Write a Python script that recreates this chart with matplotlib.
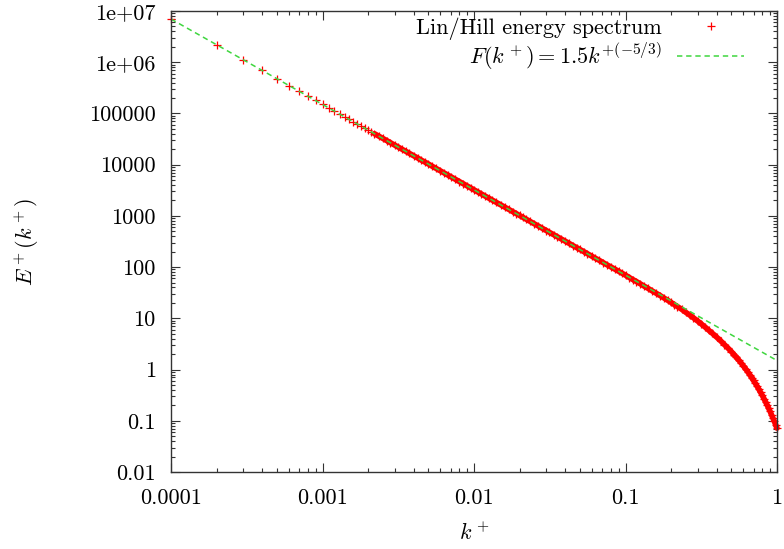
import numpy as np
import matplotlib
matplotlib.use('Agg')
import matplotlib.pyplot as plt
from matplotlib.ticker import FixedLocator, LogLocator, NullFormatter

# spectrum points, split by decade of k+
k_low = [0.0001, 0.0002, 0.0003, 0.0004, 0.0005, 0.0006, 0.0007, 0.0008, 0.0009]
e_low = [6.96e6, 2.19e6, 1.115e6, 6.90e5, 4.76e5, 3.51e5, 2.72e5, 2.175e5, 1.79e5]

k_dec3 = [0.001, 0.0011, 0.0012, 0.0013, 0.0014, 0.0015, 0.0016, 0.0017, 0.0018, 0.0019,
          0.002, 0.0021, 0.0022, 0.00235, 0.0025, 0.00265, 0.0028, 0.003, 0.00315, 0.00335,
          0.00355, 0.00375, 0.004, 0.00425, 0.0045, 0.00475, 0.005, 0.0053, 0.0056, 0.006,
          0.0063, 0.0067, 0.0071, 0.0075, 0.008, 0.0085, 0.009, 0.0095]
e_dec3 = [150000, 128000, 110700, 96900, 85600, 76300, 68500, 61900, 56300, 51500,
          47200, 43600, 40300, 36100, 32600, 29600, 27000, 24000, 22200, 20000,
          18200, 16600, 14900, 13500, 12200, 11200, 10300, 9310, 8500, 7570,
          6980, 6300, 5720, 5220, 4690, 4240, 3850, 3520]

k_dec2 = [0.01, 0.0106, 0.0112, 0.0118, 0.0125, 0.0132, 0.014, 0.015, 0.016, 0.017,
          0.018, 0.019, 0.02, 0.021, 0.022, 0.0235, 0.025, 0.0265, 0.028, 0.03,
          0.0315, 0.0335, 0.0355, 0.0375, 0.04, 0.0425, 0.045, 0.0475, 0.05, 0.053,
          0.056, 0.06, 0.063, 0.067, 0.071, 0.075, 0.08, 0.085, 0.09, 0.095]
e_dec2 = [3230, 2930, 2675, 2452, 2227, 2034, 1844, 1644, 1476, 1334,
          1213, 1109, 1018, 938, 868, 778, 701, 637, 581, 518,
          477, 431, 391, 357, 321, 290, 263, 241, 221, 201,
          183, 163, 150, 136, 123, 112, 101, 91.3, 83.0, 75.8]

k_tail = [0.1, 0.106, 0.112, 0.118, 0.125, 0.132, 0.14, 0.15, 0.16, 0.17,
          0.18, 0.19, 0.2, 0.21, 0.22, 0.235, 0.25, 0.265, 0.28, 0.3,
          0.315, 0.335, 0.355, 0.375, 0.4, 0.425, 0.45, 0.475, 0.5,
          0.52, 0.54, 0.56, 0.58, 0.6, 0.62, 0.64, 0.66, 0.68, 0.7,
          0.72, 0.74, 0.76, 0.78, 0.8, 0.82, 0.84, 0.86, 0.88, 0.9,
          0.92, 0.94, 0.96, 0.98, 1.0]
e_tail = [69.6, 62.6, 57.0, 52.3, 47.3, 42.9, 38.9, 34.3, 30.7, 27.6,
          24.8, 22.5, 20.4, 18.6, 17.0, 15.0, 13.1, 11.6, 10.3, 8.81,
          7.86, 6.77, 5.82, 5.08, 4.28, 3.63, 3.06, 2.62, 2.24,
          1.96, 1.73, 1.52, 1.34, 1.175, 1.035, 0.910, 0.798, 0.699, 0.613,
          0.536, 0.469, 0.409, 0.357, 0.312, 0.271, 0.235, 0.204, 0.177, 0.153,
          0.131, 0.113, 0.0977, 0.0837, 0.0717]

# fit shown in the legend: F(k) = 1.5 k^(-5/3)
fit_coef = 1.5
fit_exp = -5.0 / 3.0

xticks = [0.0001, 0.001, 0.01, 0.1, 1]
xtick_labels = ['0.0001', '0.001', '0.01', '0.1', '1']
yticks = [0.01, 0.1, 1, 10, 100, 1000, 10000, 100000, 1e6, 1e7]
ytick_labels = ['0.01', '0.1', '1', '10', '100', '1000', '10000', '100000', '1e+06', '1e+07']

plt.rcParams['font.family'] = 'cmr10'
plt.rcParams['mathtext.fontset'] = 'cm'
plt.rcParams['axes.formatter.use_mathtext'] = True
plt.rcParams['font.size'] = 16

k = np.array(k_low + k_dec3 + k_dec2 + k_tail)
e = np.array(e_low + e_dec3 + e_dec2 + e_tail)

fig = plt.figure(figsize=(7.84, 5.49), dpi=100)
ax = fig.add_axes([171/784, 77/549, 606/784, 461/549])

# the original samples are so dense past k~0.002 that the crosses merge into a band
dense = k >= 0.0022
ax.plot(k[dense], e[dense], '-', color='#ff0000', lw=4.0, solid_capstyle='round',
        clip_on=False)
ax.plot(k, e, linestyle='none', marker='+', color='#ff0000', ms=6, mew=0.9,
        clip_on=False, label='Lin/Hill energy spectrum')
kf = np.logspace(-4, 0, 300)
ax.plot(kf, fit_coef * kf**fit_exp, color='#3fd63f', lw=1.1, dashes=(3.5, 2.5),
        label=r'$F(k^+) = 1.5k^{+(-5/3)}$')

ax.set_xscale('log')
ax.set_yscale('log')
ax.set_xlim(1e-4, 1)
ax.set_ylim(1e-2, 1e7)

ax.xaxis.set_major_locator(FixedLocator(xticks))
ax.set_xticklabels(xtick_labels)
ax.yaxis.set_major_locator(FixedLocator(yticks))
ax.set_yticklabels(ytick_labels)
ax.xaxis.set_minor_locator(LogLocator(base=10, subs=np.arange(2, 10), numticks=100))
ax.yaxis.set_minor_locator(LogLocator(base=10, subs=np.arange(2, 10), numticks=100))
ax.xaxis.set_minor_formatter(NullFormatter())
ax.yaxis.set_minor_formatter(NullFormatter())

ax.tick_params(which='both', direction='in', top=True, right=True, color='#333333')
ax.tick_params(which='major', length=6.5, width=0.8)
ax.tick_params(which='minor', length=3.2, width=0.8)
ax.tick_params(axis='x', which='major', pad=12)
ax.tick_params(axis='y', which='major', pad=11)
for s in ax.spines.values():
    s.set_linewidth(1.0)
    s.set_color('#333333')

ax.set_xlabel(r'$k^+$')
ax.xaxis.set_label_coords(0.5, -0.108)
ax.set_ylabel(r'$E^+(k^+)$')
ax.yaxis.set_label_coords(-0.215, 0.5)

ax.legend(loc='upper right', bbox_to_anchor=(0.964, 1.01), frameon=False,
          markerfirst=False, numpoints=1, handlelength=3.0, handletextpad=0.7,
          borderpad=0, labelspacing=0.05)

fig.savefig('out.png', dpi=100)
